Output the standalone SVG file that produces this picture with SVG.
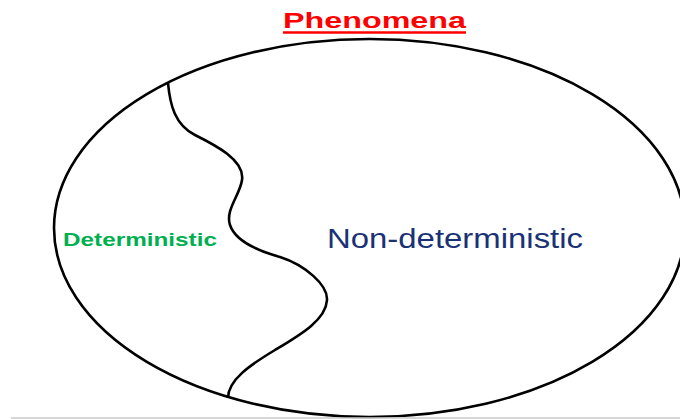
<svg xmlns="http://www.w3.org/2000/svg" width="680" height="419" viewBox="0 0 680 419">
<style>
.line{fill:none;stroke:#000;stroke-width:2.6}
.t{font-family:"Liberation Sans",Arial,sans-serif}
</style>
<rect width="680" height="419" fill="#fff"/>
<g id="title">
<text class="t" x="283" y="27.5" font-size="22.5" font-weight="bold" fill="#ff0000" textLength="183" lengthAdjust="spacingAndGlyphs">Phenomena</text>
<line x1="283" y1="32.5" x2="466" y2="32.5" stroke="#ff0000" stroke-width="2.4"/>
</g>
<g id="phenomena">
<ellipse class="line" cx="369.5" cy="228" rx="315.5" ry="189"/>
</g>
<g id="connectors">
<path class="line" d="M168,83 C170,105 175,125 195,135 C215,145 245,160 242,180 C240,195 225,210 230,225 C235,240 255,250 280,257 C305,265 328,285 327,300 C326,320 300,335 275,350 C250,365 228,380 228,398"/>
</g>
<g id="deterministic">
<text class="t" x="63" y="246" font-size="18.5" font-weight="bold" fill="#00b050" textLength="154" lengthAdjust="spacingAndGlyphs">Deterministic</text>
</g>
<g id="non-deterministic">
<text class="t" x="327" y="248" font-size="27.5" fill="#1a3275" textLength="256" lengthAdjust="spacingAndGlyphs">Non-deterministic</text>
</g>
<line x1="11" y1="418" x2="680" y2="418" stroke="#c8c8c8" stroke-width="1.5"/>
</svg>
